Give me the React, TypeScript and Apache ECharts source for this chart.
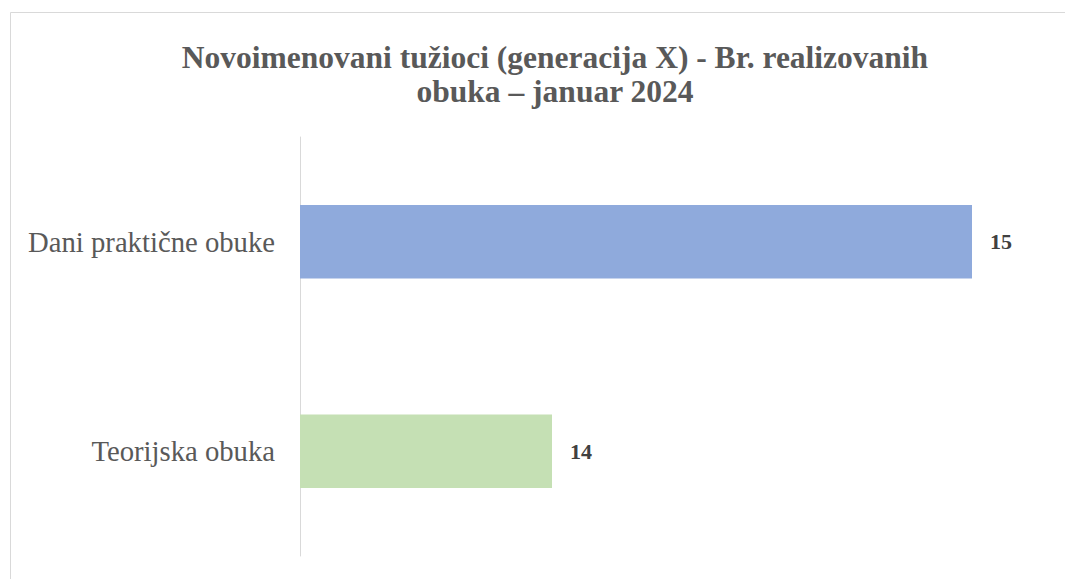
import React, { useEffect, useRef } from "react";
import * as echarts from "echarts";

const categories = ["Dani praktične obuke", "Teorijska obuka"];
const values = [15, 14];
const barColors = ["#8FAADC", "#C5E0B4"];
const titleText = "Novoimenovani tužioci (generacija X) - Br. realizovanih\nobuka – januar 2024";

export default function App() {
  const ref = useRef<HTMLDivElement>(null);
  useEffect(() => {
    if (!ref.current) return;
    const chart = echarts.init(ref.current, null, { renderer: "svg" });
    chart.setOption({
      animation: false,
      backgroundColor: "#ffffff",
      title: {
        text: titleText,
        left: 542,
        top: 27,
        textAlign: "center",
        textStyle: {
          fontFamily: "Liberation Serif",
          fontWeight: "bold",
          fontSize: 31.5,
          lineHeight: 34,
          color: "#595959",
        },
      },
      graphic: [
        {
          type: "rect",
          shape: { x: 2.5, y: 4.5, width: 1200, height: 900 },
          style: { fill: "none", stroke: "#D9D9D9", lineWidth: 1 },
          silent: true,
        },
      ],
      grid: { left: 292, right: 17, top: 129, bottom: 23, containLabel: false },
      xAxis: {
        type: "value",
        min: 13.4,
        max: 15.2,
        show: false,
        splitLine: { show: false },
      },
      yAxis: {
        type: "category",
        data: categories,
        inverse: true,
        axisLine: { show: true, lineStyle: { color: "#D9D9D9", width: 1 } },
        axisTick: { show: false },
        axisLabel: {
          margin: 25,
          fontFamily: "Liberation Serif",
          fontSize: 28.7,
          color: "#595959",
        },
      },
      series: [
        {
          type: "bar",
          data: values.map((v, i) => ({ value: v, itemStyle: { color: barColors[i] } })),
          barWidth: "35%",
          label: {
            show: true,
            position: "right",
            distance: 18,
            fontFamily: "Liberation Serif",
            fontWeight: "bold",
            fontSize: 22,
            color: "#404040",
          },
        },
      ],
    });
    return () => chart.dispose();
  }, []);
  return <div ref={ref} style={{ width: 1065, height: 571 }} />;
}
